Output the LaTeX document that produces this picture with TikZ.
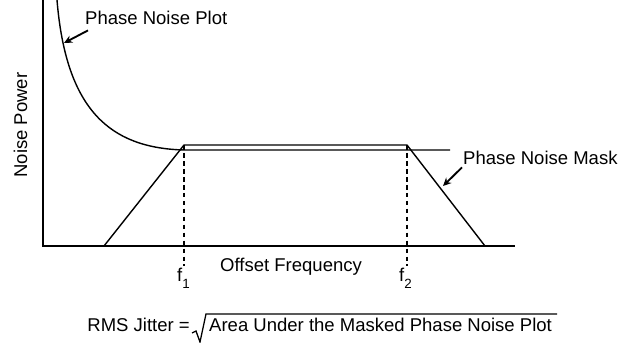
\documentclass[tikz,border=0pt]{standalone}
\usepackage{fontspec}
\setmainfont{Liberation Sans}
\usepackage{tikz}
\usetikzlibrary{arrows.meta,calc}

\begin{document}
\begin{tikzpicture}[
    x=0.03cm, y=-0.03cm,
    label/.style={inner sep=0pt, font=\fontsize{15.8}{19}\selectfont},
    axis/.style={line width=1.3pt, line cap=rect},
    curve/.style={line width=1.2pt, line join=round},
    guide/.style={line width=1.2pt, dash pattern=on 4pt off 2.8pt},
    arrow/.style={->, line width=1.6pt, >={Stealth[length=7pt, width=6.5pt]}}
]
    \useasboundingbox (0,0) rectangle (635,343);

    % Axes
    \coordinate (origin) at (43,246);
    \coordinate (ytop) at (43,0);
    \coordinate (xend) at (514,246);
    \draw[axis] (ytop) -- (origin) -- (xend);

    % Phase noise plot
    \coordinate (c0) at (57,0);
    \coordinate (c1) at (184,150);
    \coordinate (c2) at (450,150);
    \draw[curve] (c0) .. controls (66,110) and (110,148) .. (c1) -- (c2);

    % Phase noise mask
    \coordinate (m1) at (104,246);
    \coordinate (m2) at (184,145);
    \coordinate (m3) at (407,145);
    \coordinate (m4) at (485,246);
    \draw[curve] (m1) -- (m2) -- (m3) -- (m4);

    % Offset markers
    \coordinate (f1low) at (184,266);
    \coordinate (f2low) at (407,266);
    \draw[guide] (m2) -- (f1low);
    \draw[guide] (m3) -- (f2low);

    % Labels
    \node[label, rotate=90, anchor=base] (ylbl) at (27,125) {Noise Power};
    \node[label, anchor=base west] (xlbl) at (220,272) {Offset Frequency};
    \node[label, anchor=base west] (f1) at (177,282) {f\raisebox{-5.5pt}{\fontsize{11.4}{12}\selectfont 1}};
    \node[label, anchor=base west] (f2) at (399,282) {f\raisebox{-5.5pt}{\fontsize{11.4}{12}\selectfont 2}};
    \node[label, anchor=base west] (plotlbl) at (85,25) {Phase Noise Plot};
    \node[label, anchor=base west] (masklbl) at (463,165) {Phase Noise Mask};

    % Pointers
    \coordinate (plottip) at (64,43);
    \coordinate (masktip) at (443,186);
    \draw[arrow] ($(plotlbl.south west)+(3,5)$) -- (plottip);
    \draw[arrow] ($(masklbl.south west)+(-1,2)$) -- (masktip);

    % Jitter formula
    \node[label, anchor=base east] (rms) at (190,332) {RMS Jitter =};
    \node[label, anchor=base west] (area) at (209,332) {Area Under the Masked Phase Noise Plot};
    \draw[line width=1.1pt, line join=miter] (192,333) -- (196,331) -- (200,342) -- (206,314) -- (557,314);
\end{tikzpicture}
\end{document}
